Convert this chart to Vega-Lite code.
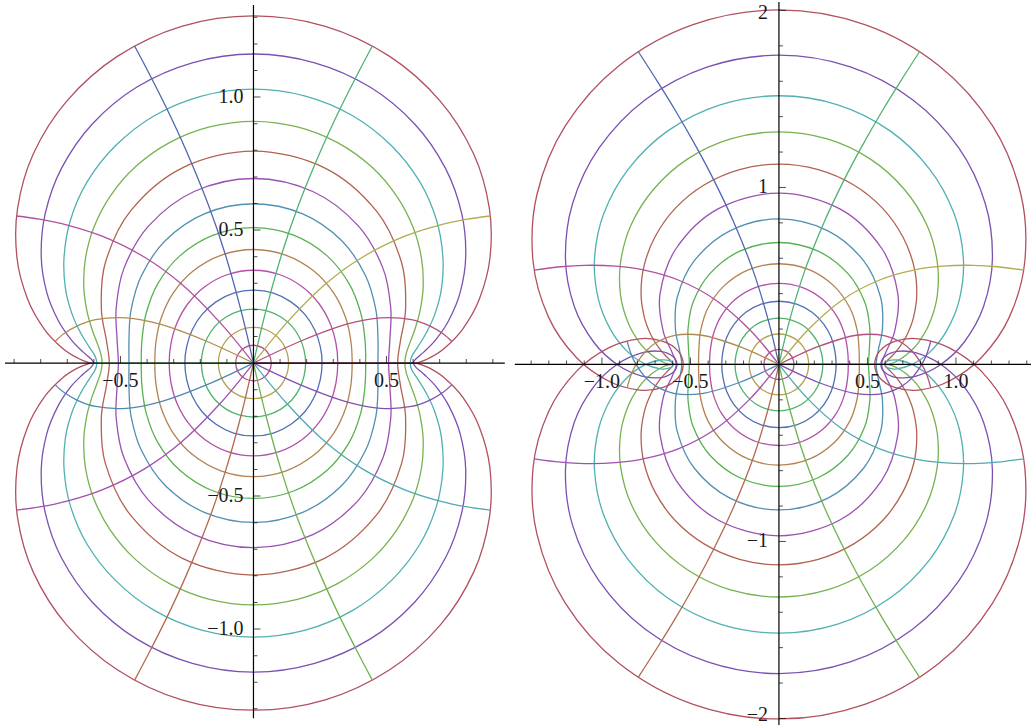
{
"$schema":"https://vega.github.io/schema/vega-lite/v6.json",
"background":"white","padding":0,"spacing":0,
"config":{"view":{"stroke":null},"concat":{"spacing":0}},
"datasets":{
"Lc":[
{"i":2,"x":0.067,"y":0},{"i":2,"x":0.058,"y":0.033},{"i":2,"x":0.033,"y":0.058},{"i":2,"x":0,"y":0.067},{"i":2,"x":-0.033,"y":0.058},{"i":2,"x":-0.058,"y":0.033},{"i":2,"x":-0.067,"y":0},{"i":2,"x":-0.058,"y":-0.033},{"i":2,"x":-0.033,"y":-0.058},{"i":2,"x":0,"y":-0.067},{"i":2,"x":0.033,"y":-0.058},{"i":2,"x":0.058,"y":-0.033},
{"i":3,"x":0.132,"y":0},{"i":3,"x":0.115,"y":0.066},{"i":3,"x":0.068,"y":0.115},{"i":3,"x":0,"y":0.134},{"i":3,"x":-0.068,"y":0.115},{"i":3,"x":-0.115,"y":0.066},{"i":3,"x":-0.132,"y":0},{"i":3,"x":-0.115,"y":-0.066},{"i":3,"x":-0.068,"y":-0.115},{"i":3,"x":0,"y":-0.134},{"i":3,"x":0.068,"y":-0.115},{"i":3,"x":0.115,"y":-0.066},
{"i":4,"x":0.196,"y":0},{"i":4,"x":0.19,"y":0.049},{"i":4,"x":0.173,"y":0.096},{"i":4,"x":0.144,"y":0.139},{"i":4,"x":0.103,"y":0.173},{"i":4,"x":0.054,"y":0.195},{"i":4,"x":0,"y":0.203},{"i":4,"x":-0.054,"y":0.195},{"i":4,"x":-0.103,"y":0.173},{"i":4,"x":-0.144,"y":0.139},{"i":4,"x":-0.173,"y":0.096},{"i":4,"x":-0.19,"y":0.049},{"i":4,"x":-0.196,"y":0},{"i":4,"x":-0.19,"y":-0.049},{"i":4,"x":-0.173,"y":-0.096},{"i":4,"x":-0.144,"y":-0.139},{"i":4,"x":-0.103,"y":-0.173},{"i":4,"x":-0.054,"y":-0.195},{"i":4,"x":0,"y":-0.203},{"i":4,"x":0.054,"y":-0.195},{"i":4,"x":0.103,"y":-0.173},{"i":4,"x":0.144,"y":-0.139},{"i":4,"x":0.173,"y":-0.096},{"i":4,"x":0.19,"y":-0.049},
{"i":5,"x":0.258,"y":0},{"i":5,"x":0.251,"y":0.063},{"i":5,"x":0.23,"y":0.125},{"i":5,"x":0.194,"y":0.182},{"i":5,"x":0.141,"y":0.23},{"i":5,"x":0.075,"y":0.263},{"i":5,"x":0,"y":0.274},{"i":5,"x":-0.075,"y":0.263},{"i":5,"x":-0.141,"y":0.23},{"i":5,"x":-0.194,"y":0.182},{"i":5,"x":-0.23,"y":0.125},{"i":5,"x":-0.251,"y":0.063},{"i":5,"x":-0.258,"y":0},{"i":5,"x":-0.251,"y":-0.063},{"i":5,"x":-0.23,"y":-0.125},{"i":5,"x":-0.194,"y":-0.182},{"i":5,"x":-0.141,"y":-0.23},{"i":5,"x":-0.075,"y":-0.263},{"i":5,"x":0,"y":-0.274},{"i":5,"x":0.075,"y":-0.263},{"i":5,"x":0.141,"y":-0.23},{"i":5,"x":0.194,"y":-0.182},{"i":5,"x":0.23,"y":-0.125},{"i":5,"x":0.251,"y":-0.063},
{"i":6,"x":0.317,"y":0},{"i":6,"x":0.31,"y":0.075},{"i":6,"x":0.288,"y":0.15},{"i":6,"x":0.246,"y":0.224},{"i":6,"x":0.182,"y":0.288},{"i":6,"x":0.097,"y":0.333},{"i":6,"x":0,"y":0.349},{"i":6,"x":-0.097,"y":0.333},{"i":6,"x":-0.182,"y":0.288},{"i":6,"x":-0.246,"y":0.224},{"i":6,"x":-0.288,"y":0.15},{"i":6,"x":-0.31,"y":0.075},{"i":6,"x":-0.317,"y":0},{"i":6,"x":-0.31,"y":-0.075},{"i":6,"x":-0.288,"y":-0.15},{"i":6,"x":-0.246,"y":-0.224},{"i":6,"x":-0.182,"y":-0.288},{"i":6,"x":-0.097,"y":-0.333},{"i":6,"x":0,"y":-0.349},{"i":6,"x":0.097,"y":-0.333},{"i":6,"x":0.182,"y":-0.288},{"i":6,"x":0.246,"y":-0.224},{"i":6,"x":0.288,"y":-0.15},{"i":6,"x":0.31,"y":-0.075},
{"i":7,"x":0.371,"y":0},{"i":7,"x":0.366,"y":0.084},{"i":7,"x":0.346,"y":0.172},{"i":7,"x":0.302,"y":0.263},{"i":7,"x":0.227,"y":0.346},{"i":7,"x":0.123,"y":0.405},{"i":7,"x":0,"y":0.427},{"i":7,"x":-0.123,"y":0.405},{"i":7,"x":-0.227,"y":0.346},{"i":7,"x":-0.302,"y":0.263},{"i":7,"x":-0.346,"y":0.172},{"i":7,"x":-0.366,"y":0.084},{"i":7,"x":-0.371,"y":0},{"i":7,"x":-0.366,"y":-0.084},{"i":7,"x":-0.346,"y":-0.172},{"i":7,"x":-0.302,"y":-0.263},{"i":7,"x":-0.227,"y":-0.346},{"i":7,"x":-0.123,"y":-0.405},{"i":7,"x":0,"y":-0.427},{"i":7,"x":0.123,"y":-0.405},{"i":7,"x":0.227,"y":-0.346},{"i":7,"x":0.302,"y":-0.263},{"i":7,"x":0.346,"y":-0.172},{"i":7,"x":0.366,"y":-0.084},
{"i":8,"x":0.422,"y":0},{"i":8,"x":0.419,"y":0.09},{"i":8,"x":0.403,"y":0.189},{"i":8,"x":0.36,"y":0.298},{"i":8,"x":0.277,"y":0.403},{"i":8,"x":0.151,"y":0.481},{"i":8,"x":0,"y":0.509},{"i":8,"x":-0.151,"y":0.481},{"i":8,"x":-0.277,"y":0.403},{"i":8,"x":-0.36,"y":0.298},{"i":8,"x":-0.403,"y":0.189},{"i":8,"x":-0.419,"y":0.09},{"i":8,"x":-0.422,"y":0},{"i":8,"x":-0.419,"y":-0.09},{"i":8,"x":-0.403,"y":-0.189},{"i":8,"x":-0.36,"y":-0.298},{"i":8,"x":-0.277,"y":-0.403},{"i":8,"x":-0.151,"y":-0.481},{"i":8,"x":0,"y":-0.509},{"i":8,"x":0.151,"y":-0.481},{"i":8,"x":0.277,"y":-0.403},{"i":8,"x":0.36,"y":-0.298},{"i":8,"x":0.403,"y":-0.189},{"i":8,"x":0.419,"y":-0.09},
{"i":9,"x":0.468,"y":0},{"i":9,"x":0.468,"y":0.093},{"i":9,"x":0.46,"y":0.201},{"i":9,"x":0.421,"y":0.329},{"i":9,"x":0.332,"y":0.46},{"i":9,"x":0.185,"y":0.561},{"i":9,"x":0,"y":0.599},{"i":9,"x":-0.185,"y":0.561},{"i":9,"x":-0.332,"y":0.46},{"i":9,"x":-0.421,"y":0.329},{"i":9,"x":-0.46,"y":0.201},{"i":9,"x":-0.468,"y":0.093},{"i":9,"x":-0.468,"y":0},{"i":9,"x":-0.468,"y":-0.093},{"i":9,"x":-0.46,"y":-0.201},{"i":9,"x":-0.421,"y":-0.329},{"i":9,"x":-0.332,"y":-0.46},{"i":9,"x":-0.185,"y":-0.561},{"i":9,"x":0,"y":-0.599},{"i":9,"x":0.185,"y":-0.561},{"i":9,"x":0.332,"y":-0.46},{"i":9,"x":0.421,"y":-0.329},{"i":9,"x":0.46,"y":-0.201},{"i":9,"x":0.468,"y":-0.093},
{"i":10,"x":0.508,"y":0},{"i":10,"x":0.513,"y":0.092},{"i":10,"x":0.516,"y":0.208},{"i":10,"x":0.487,"y":0.356},{"i":10,"x":0.394,"y":0.516},{"i":10,"x":0.223,"y":0.645},{"i":10,"x":0,"y":0.694},{"i":10,"x":-0.223,"y":0.645},{"i":10,"x":-0.394,"y":0.516},{"i":10,"x":-0.487,"y":0.356},{"i":10,"x":-0.516,"y":0.208},{"i":10,"x":-0.513,"y":0.092},{"i":10,"x":-0.508,"y":0},{"i":10,"x":-0.513,"y":-0.092},{"i":10,"x":-0.516,"y":-0.208},{"i":10,"x":-0.487,"y":-0.356},{"i":10,"x":-0.394,"y":-0.516},{"i":10,"x":-0.223,"y":-0.645},{"i":10,"x":0,"y":-0.694},{"i":10,"x":0.223,"y":-0.645},{"i":10,"x":0.394,"y":-0.516},{"i":10,"x":0.487,"y":-0.356},{"i":10,"x":0.516,"y":-0.208},{"i":10,"x":0.513,"y":-0.092},
{"i":11,"x":0.542,"y":0},{"i":11,"x":0.553,"y":0.086},{"i":11,"x":0.572,"y":0.207},{"i":11,"x":0.557,"y":0.377},{"i":11,"x":0.462,"y":0.572},{"i":11,"x":0.267,"y":0.734},{"i":11,"x":0,"y":0.797},{"i":11,"x":-0.267,"y":0.734},{"i":11,"x":-0.462,"y":0.572},{"i":11,"x":-0.557,"y":0.377},{"i":11,"x":-0.572,"y":0.207},{"i":11,"x":-0.553,"y":0.086},{"i":11,"x":-0.542,"y":0},{"i":11,"x":-0.553,"y":-0.086},{"i":11,"x":-0.572,"y":-0.207},{"i":11,"x":-0.557,"y":-0.377},{"i":11,"x":-0.462,"y":-0.572},{"i":11,"x":-0.267,"y":-0.734},{"i":11,"x":0,"y":-0.797},{"i":11,"x":0.267,"y":-0.734},{"i":11,"x":0.462,"y":-0.572},{"i":11,"x":0.557,"y":-0.377},{"i":11,"x":0.572,"y":-0.207},{"i":11,"x":0.553,"y":-0.086},
{"i":12,"x":0.569,"y":0},{"i":12,"x":0.574,"y":0.035},{"i":12,"x":0.588,"y":0.076},{"i":12,"x":0.608,"y":0.13},{"i":12,"x":0.627,"y":0.2},{"i":12,"x":0.638,"y":0.287},{"i":12,"x":0.632,"y":0.392},{"i":12,"x":0.601,"y":0.508},{"i":12,"x":0.539,"y":0.627},{"i":12,"x":0.444,"y":0.738},{"i":12,"x":0.316,"y":0.829},{"i":12,"x":0.165,"y":0.888},{"i":12,"x":0,"y":0.909},
{"i":12,"x":-0.165,"y":0.888},{"i":12,"x":-0.316,"y":0.829},{"i":12,"x":-0.444,"y":0.738},{"i":12,"x":-0.539,"y":0.627},{"i":12,"x":-0.601,"y":0.508},{"i":12,"x":-0.632,"y":0.392},{"i":12,"x":-0.638,"y":0.287},{"i":12,"x":-0.627,"y":0.2},{"i":12,"x":-0.608,"y":0.13},{"i":12,"x":-0.588,"y":0.076},{"i":12,"x":-0.574,"y":0.035},{"i":12,"x":-0.569,"y":0},
{"i":12,"x":-0.574,"y":-0.035},{"i":12,"x":-0.588,"y":-0.076},{"i":12,"x":-0.608,"y":-0.13},{"i":12,"x":-0.627,"y":-0.2},{"i":12,"x":-0.638,"y":-0.287},{"i":12,"x":-0.632,"y":-0.392},{"i":12,"x":-0.601,"y":-0.508},{"i":12,"x":-0.539,"y":-0.627},{"i":12,"x":-0.444,"y":-0.738},{"i":12,"x":-0.316,"y":-0.829},{"i":12,"x":-0.165,"y":-0.888},{"i":12,"x":0,"y":-0.909},
{"i":12,"x":0.165,"y":-0.888},{"i":12,"x":0.316,"y":-0.829},{"i":12,"x":0.444,"y":-0.738},{"i":12,"x":0.539,"y":-0.627},{"i":12,"x":0.601,"y":-0.508},{"i":12,"x":0.632,"y":-0.392},{"i":12,"x":0.638,"y":-0.287},{"i":12,"x":0.627,"y":-0.2},{"i":12,"x":0.608,"y":-0.13},{"i":12,"x":0.588,"y":-0.076},{"i":12,"x":0.574,"y":-0.035},
{"i":13,"x":0.589,"y":0},{"i":13,"x":0.596,"y":0.027},{"i":13,"x":0.618,"y":0.061},{"i":13,"x":0.649,"y":0.112},{"i":13,"x":0.682,"y":0.184},{"i":13,"x":0.707,"y":0.281},{"i":13,"x":0.712,"y":0.401},{"i":13,"x":0.688,"y":0.538},{"i":13,"x":0.625,"y":0.682},{"i":13,"x":0.519,"y":0.817},{"i":13,"x":0.373,"y":0.93},{"i":13,"x":0.195,"y":1.004},{"i":13,"x":0,"y":1.03},
{"i":13,"x":-0.195,"y":1.004},{"i":13,"x":-0.373,"y":0.93},{"i":13,"x":-0.519,"y":0.817},{"i":13,"x":-0.625,"y":0.682},{"i":13,"x":-0.688,"y":0.538},{"i":13,"x":-0.712,"y":0.401},{"i":13,"x":-0.707,"y":0.281},{"i":13,"x":-0.682,"y":0.184},{"i":13,"x":-0.649,"y":0.112},{"i":13,"x":-0.618,"y":0.061},{"i":13,"x":-0.596,"y":0.027},{"i":13,"x":-0.589,"y":0},
{"i":13,"x":-0.596,"y":-0.027},{"i":13,"x":-0.618,"y":-0.061},{"i":13,"x":-0.649,"y":-0.112},{"i":13,"x":-0.682,"y":-0.184},{"i":13,"x":-0.707,"y":-0.281},{"i":13,"x":-0.712,"y":-0.401},{"i":13,"x":-0.688,"y":-0.538},{"i":13,"x":-0.625,"y":-0.682},{"i":13,"x":-0.519,"y":-0.817},{"i":13,"x":-0.373,"y":-0.93},{"i":13,"x":-0.195,"y":-1.004},{"i":13,"x":0,"y":-1.03},
{"i":13,"x":0.195,"y":-1.004},{"i":13,"x":0.373,"y":-0.93},{"i":13,"x":0.519,"y":-0.817},{"i":13,"x":0.625,"y":-0.682},{"i":13,"x":0.688,"y":-0.538},{"i":13,"x":0.712,"y":-0.401},{"i":13,"x":0.707,"y":-0.281},{"i":13,"x":0.682,"y":-0.184},{"i":13,"x":0.649,"y":-0.112},{"i":13,"x":0.618,"y":-0.061},{"i":13,"x":0.596,"y":-0.027},
{"i":14,"x":0.601,"y":0},{"i":14,"x":0.611,"y":0.016},{"i":14,"x":0.641,"y":0.042},{"i":14,"x":0.685,"y":0.087},{"i":14,"x":0.734,"y":0.16},{"i":14,"x":0.777,"y":0.265},{"i":14,"x":0.798,"y":0.401},{"i":14,"x":0.783,"y":0.562},{"i":14,"x":0.721,"y":0.734},{"i":14,"x":0.605,"y":0.9},{"i":14,"x":0.438,"y":1.038},{"i":14,"x":0.23,"y":1.129},{"i":14,"x":0,"y":1.162},
{"i":14,"x":-0.23,"y":1.129},{"i":14,"x":-0.438,"y":1.038},{"i":14,"x":-0.605,"y":0.9},{"i":14,"x":-0.721,"y":0.734},{"i":14,"x":-0.783,"y":0.562},{"i":14,"x":-0.798,"y":0.401},{"i":14,"x":-0.777,"y":0.265},{"i":14,"x":-0.734,"y":0.16},{"i":14,"x":-0.685,"y":0.087},{"i":14,"x":-0.641,"y":0.042},{"i":14,"x":-0.611,"y":0.016},{"i":14,"x":-0.601,"y":0},
{"i":14,"x":-0.611,"y":-0.016},{"i":14,"x":-0.641,"y":-0.042},{"i":14,"x":-0.685,"y":-0.087},{"i":14,"x":-0.734,"y":-0.16},{"i":14,"x":-0.777,"y":-0.265},{"i":14,"x":-0.798,"y":-0.401},{"i":14,"x":-0.783,"y":-0.562},{"i":14,"x":-0.721,"y":-0.734},{"i":14,"x":-0.605,"y":-0.9},{"i":14,"x":-0.438,"y":-1.038},{"i":14,"x":-0.23,"y":-1.129},{"i":14,"x":0,"y":-1.162},
{"i":14,"x":0.23,"y":-1.129},{"i":14,"x":0.438,"y":-1.038},{"i":14,"x":0.605,"y":-0.9},{"i":14,"x":0.721,"y":-0.734},{"i":14,"x":0.783,"y":-0.562},{"i":14,"x":0.798,"y":-0.401},{"i":14,"x":0.777,"y":-0.265},{"i":14,"x":0.734,"y":-0.16},{"i":14,"x":0.685,"y":-0.087},{"i":14,"x":0.641,"y":-0.042},{"i":14,"x":0.611,"y":-0.016},
{"i":15,"x":0.605,"y":0},{"i":15,"x":0.619,"y":0.002},{"i":15,"x":0.658,"y":0.017},{"i":15,"x":0.717,"y":0.055},{"i":15,"x":0.786,"y":0.127},{"i":15,"x":0.849,"y":0.24},{"i":15,"x":0.889,"y":0.394},{"i":15,"x":0.887,"y":0.581},{"i":15,"x":0.828,"y":0.786},{"i":15,"x":0.702,"y":0.985},{"i":15,"x":0.512,"y":1.153},{"i":15,"x":0.27,"y":1.266},{"i":15,"x":0,"y":1.305},
{"i":15,"x":-0.27,"y":1.266},{"i":15,"x":-0.512,"y":1.153},{"i":15,"x":-0.702,"y":0.985},{"i":15,"x":-0.828,"y":0.786},{"i":15,"x":-0.887,"y":0.581},{"i":15,"x":-0.889,"y":0.394},{"i":15,"x":-0.849,"y":0.24},{"i":15,"x":-0.786,"y":0.127},{"i":15,"x":-0.717,"y":0.055},{"i":15,"x":-0.658,"y":0.017},{"i":15,"x":-0.619,"y":0.002},{"i":15,"x":-0.605,"y":0},
{"i":15,"x":-0.619,"y":-0.002},{"i":15,"x":-0.658,"y":-0.017},{"i":15,"x":-0.717,"y":-0.055},{"i":15,"x":-0.786,"y":-0.127},{"i":15,"x":-0.849,"y":-0.24},{"i":15,"x":-0.889,"y":-0.394},{"i":15,"x":-0.887,"y":-0.581},{"i":15,"x":-0.828,"y":-0.786},{"i":15,"x":-0.702,"y":-0.985},{"i":15,"x":-0.512,"y":-1.153},{"i":15,"x":-0.27,"y":-1.266},{"i":15,"x":0,"y":-1.305},
{"i":15,"x":0.27,"y":-1.266},{"i":15,"x":0.512,"y":-1.153},{"i":15,"x":0.702,"y":-0.985},{"i":15,"x":0.828,"y":-0.786},{"i":15,"x":0.887,"y":-0.581},{"i":15,"x":0.889,"y":-0.394},{"i":15,"x":0.849,"y":-0.24},{"i":15,"x":0.786,"y":-0.127},{"i":15,"x":0.717,"y":-0.055},{"i":15,"x":0.658,"y":-0.017},{"i":15,"x":0.619,"y":-0.002}
],
"Lr":[
{"i":18,"x":0,"y":0},{"i":18,"x":0.605,"y":0},
{"i":19,"x":0,"y":0},{"i":19,"x":0.179,"y":0.083},{"i":19,"x":0.354,"y":0.147},{"i":19,"x":0.478,"y":0.17},{"i":19,"x":0.594,"y":0.163},{"i":19,"x":0.664,"y":0.139},{"i":19,"x":0.713,"y":0.11},{"i":19,"x":0.746,"y":0.081},
{"i":20,"x":0,"y":0},{"i":20,"x":0.128,"y":0.155},{"i":20,"x":0.274,"y":0.3},{"i":20,"x":0.408,"y":0.397},{"i":20,"x":0.569,"y":0.477},{"i":20,"x":0.697,"y":0.518},{"i":20,"x":0.804,"y":0.541},{"i":20,"x":0.891,"y":0.553},
{"i":21,"x":0,"y":0},{"i":21,"x":0.047,"y":0.198},{"i":21,"x":0.107,"y":0.412},{"i":21,"x":0.169,"y":0.593},{"i":21,"x":0.254,"y":0.801},{"i":21,"x":0.327,"y":0.959},{"i":21,"x":0.392,"y":1.088},{"i":21,"x":0.447,"y":1.192},
{"i":22,"x":0,"y":0},{"i":22,"x":-0.047,"y":0.198},{"i":22,"x":-0.107,"y":0.412},{"i":22,"x":-0.169,"y":0.593},{"i":22,"x":-0.254,"y":0.801},{"i":22,"x":-0.327,"y":0.959},{"i":22,"x":-0.392,"y":1.088},{"i":22,"x":-0.447,"y":1.192},
{"i":23,"x":0,"y":0},{"i":23,"x":-0.128,"y":0.155},{"i":23,"x":-0.274,"y":0.3},{"i":23,"x":-0.408,"y":0.397},{"i":23,"x":-0.569,"y":0.477},{"i":23,"x":-0.697,"y":0.518},{"i":23,"x":-0.804,"y":0.541},{"i":23,"x":-0.891,"y":0.553},
{"i":24,"x":0,"y":0},{"i":24,"x":-0.179,"y":0.083},{"i":24,"x":-0.354,"y":0.147},{"i":24,"x":-0.478,"y":0.17},{"i":24,"x":-0.594,"y":0.163},{"i":24,"x":-0.664,"y":0.139},{"i":24,"x":-0.713,"y":0.11},{"i":24,"x":-0.746,"y":0.081},
{"i":25,"x":0,"y":0},{"i":25,"x":-0.605,"y":0},
{"i":26,"x":0,"y":0},{"i":26,"x":-0.179,"y":-0.083},{"i":26,"x":-0.354,"y":-0.147},{"i":26,"x":-0.478,"y":-0.17},{"i":26,"x":-0.594,"y":-0.163},{"i":26,"x":-0.664,"y":-0.139},{"i":26,"x":-0.713,"y":-0.11},{"i":26,"x":-0.746,"y":-0.081},
{"i":27,"x":0,"y":0},{"i":27,"x":-0.128,"y":-0.155},{"i":27,"x":-0.274,"y":-0.3},{"i":27,"x":-0.408,"y":-0.397},{"i":27,"x":-0.569,"y":-0.477},{"i":27,"x":-0.697,"y":-0.518},{"i":27,"x":-0.804,"y":-0.541},{"i":27,"x":-0.891,"y":-0.553},
{"i":28,"x":0,"y":0},{"i":28,"x":-0.047,"y":-0.198},{"i":28,"x":-0.107,"y":-0.412},{"i":28,"x":-0.169,"y":-0.593},{"i":28,"x":-0.254,"y":-0.801},{"i":28,"x":-0.327,"y":-0.959},{"i":28,"x":-0.392,"y":-1.088},{"i":28,"x":-0.447,"y":-1.192},
{"i":29,"x":0,"y":0},{"i":29,"x":0.047,"y":-0.198},{"i":29,"x":0.107,"y":-0.412},{"i":29,"x":0.169,"y":-0.593},{"i":29,"x":0.254,"y":-0.801},{"i":29,"x":0.327,"y":-0.959},{"i":29,"x":0.392,"y":-1.088},{"i":29,"x":0.447,"y":-1.192},
{"i":30,"x":0,"y":0},{"i":30,"x":0.128,"y":-0.155},{"i":30,"x":0.274,"y":-0.3},{"i":30,"x":0.408,"y":-0.397},{"i":30,"x":0.569,"y":-0.477},{"i":30,"x":0.697,"y":-0.518},{"i":30,"x":0.804,"y":-0.541},{"i":30,"x":0.891,"y":-0.553},
{"i":31,"x":0,"y":0},{"i":31,"x":0.179,"y":-0.083},{"i":31,"x":0.354,"y":-0.147},{"i":31,"x":0.478,"y":-0.17},{"i":31,"x":0.594,"y":-0.163},{"i":31,"x":0.664,"y":-0.139},{"i":31,"x":0.713,"y":-0.11},{"i":31,"x":0.746,"y":-0.081},
{"i":32,"x":0,"y":0},{"i":32,"x":0.605,"y":0}
],
"Rc":[
{"i":2,"x":0.085,"y":0},{"i":2,"x":0.074,"y":0.043},{"i":2,"x":0.043,"y":0.074},{"i":2,"x":0,"y":0.085},{"i":2,"x":-0.043,"y":0.074},{"i":2,"x":-0.074,"y":0.043},{"i":2,"x":-0.085,"y":0},{"i":2,"x":-0.074,"y":-0.043},{"i":2,"x":-0.043,"y":-0.074},{"i":2,"x":0,"y":-0.085},{"i":2,"x":0.043,"y":-0.074},{"i":2,"x":0.074,"y":-0.043},
{"i":3,"x":0.168,"y":0},{"i":3,"x":0.147,"y":0.083},{"i":3,"x":0.087,"y":0.147},{"i":3,"x":0,"y":0.172},{"i":3,"x":-0.087,"y":0.147},{"i":3,"x":-0.147,"y":0.083},{"i":3,"x":-0.168,"y":0},{"i":3,"x":-0.147,"y":-0.083},{"i":3,"x":-0.087,"y":-0.147},{"i":3,"x":0,"y":-0.172},{"i":3,"x":0.087,"y":-0.147},{"i":3,"x":0.147,"y":-0.083},
{"i":4,"x":0.248,"y":0},{"i":4,"x":0.241,"y":0.061},{"i":4,"x":0.221,"y":0.12},{"i":4,"x":0.185,"y":0.175},{"i":4,"x":0.135,"y":0.221},{"i":4,"x":0.071,"y":0.251},{"i":4,"x":0,"y":0.262},{"i":4,"x":-0.071,"y":0.251},{"i":4,"x":-0.135,"y":0.221},{"i":4,"x":-0.185,"y":0.175},{"i":4,"x":-0.221,"y":0.12},{"i":4,"x":-0.241,"y":0.061},{"i":4,"x":-0.248,"y":0},{"i":4,"x":-0.241,"y":-0.061},{"i":4,"x":-0.221,"y":-0.12},{"i":4,"x":-0.185,"y":-0.175},{"i":4,"x":-0.135,"y":-0.221},{"i":4,"x":-0.071,"y":-0.251},{"i":4,"x":0,"y":-0.262},{"i":4,"x":0.071,"y":-0.251},{"i":4,"x":0.135,"y":-0.221},{"i":4,"x":0.185,"y":-0.175},{"i":4,"x":0.221,"y":-0.12},{"i":4,"x":0.241,"y":-0.061},
{"i":5,"x":0.323,"y":0},{"i":5,"x":0.316,"y":0.076},{"i":5,"x":0.295,"y":0.153},{"i":5,"x":0.253,"y":0.228},{"i":5,"x":0.187,"y":0.295},{"i":5,"x":0.1,"y":0.341},{"i":5,"x":0,"y":0.357},{"i":5,"x":-0.1,"y":0.341},{"i":5,"x":-0.187,"y":0.295},{"i":5,"x":-0.253,"y":0.228},{"i":5,"x":-0.295,"y":0.153},{"i":5,"x":-0.316,"y":0.076},{"i":5,"x":-0.323,"y":0},{"i":5,"x":-0.316,"y":-0.076},{"i":5,"x":-0.295,"y":-0.153},{"i":5,"x":-0.253,"y":-0.228},{"i":5,"x":-0.187,"y":-0.295},{"i":5,"x":-0.1,"y":-0.341},{"i":5,"x":0,"y":-0.357},{"i":5,"x":0.1,"y":-0.341},{"i":5,"x":0.187,"y":-0.295},{"i":5,"x":0.253,"y":-0.228},{"i":5,"x":0.295,"y":-0.153},{"i":5,"x":0.316,"y":-0.076},
{"i":6,"x":0.392,"y":0},{"i":6,"x":0.387,"y":0.086},{"i":6,"x":0.368,"y":0.179},{"i":6,"x":0.324,"y":0.277},{"i":6,"x":0.246,"y":0.368},{"i":6,"x":0.134,"y":0.434},{"i":6,"x":0,"y":0.458},{"i":6,"x":-0.134,"y":0.434},{"i":6,"x":-0.246,"y":0.368},{"i":6,"x":-0.324,"y":0.277},{"i":6,"x":-0.368,"y":0.179},{"i":6,"x":-0.387,"y":0.086},{"i":6,"x":-0.392,"y":0},{"i":6,"x":-0.387,"y":-0.086},{"i":6,"x":-0.368,"y":-0.179},{"i":6,"x":-0.324,"y":-0.277},{"i":6,"x":-0.246,"y":-0.368},{"i":6,"x":-0.134,"y":-0.434},{"i":6,"x":0,"y":-0.458},{"i":6,"x":0.134,"y":-0.434},{"i":6,"x":0.246,"y":-0.368},{"i":6,"x":0.324,"y":-0.277},{"i":6,"x":0.368,"y":-0.179},{"i":6,"x":0.387,"y":-0.086},
{"i":7,"x":0.454,"y":0},{"i":7,"x":0.452,"y":0.092},{"i":7,"x":0.441,"y":0.198},{"i":7,"x":0.401,"y":0.319},{"i":7,"x":0.313,"y":0.441},{"i":7,"x":0.174,"y":0.534},{"i":7,"x":0,"y":0.569},{"i":7,"x":-0.174,"y":0.534},{"i":7,"x":-0.313,"y":0.441},{"i":7,"x":-0.401,"y":0.319},{"i":7,"x":-0.441,"y":0.198},{"i":7,"x":-0.452,"y":0.092},{"i":7,"x":-0.454,"y":0},{"i":7,"x":-0.452,"y":-0.092},{"i":7,"x":-0.441,"y":-0.198},{"i":7,"x":-0.401,"y":-0.319},{"i":7,"x":-0.313,"y":-0.441},{"i":7,"x":-0.174,"y":-0.534},{"i":7,"x":0,"y":-0.569},{"i":7,"x":0.174,"y":-0.534},{"i":7,"x":0.313,"y":-0.441},{"i":7,"x":0.401,"y":-0.319},{"i":7,"x":0.441,"y":-0.198},{"i":7,"x":0.452,"y":-0.092},
{"i":8,"x":0.506,"y":0},{"i":8,"x":0.511,"y":0.092},{"i":8,"x":0.513,"y":0.207},{"i":8,"x":0.484,"y":0.354},{"i":8,"x":0.39,"y":0.513},{"i":8,"x":0.221,"y":0.64},{"i":8,"x":0,"y":0.689},{"i":8,"x":-0.221,"y":0.64},{"i":8,"x":-0.39,"y":0.513},{"i":8,"x":-0.484,"y":0.354},{"i":8,"x":-0.513,"y":0.207},{"i":8,"x":-0.511,"y":0.092},{"i":8,"x":-0.506,"y":0},{"i":8,"x":-0.511,"y":-0.092},{"i":8,"x":-0.513,"y":-0.207},{"i":8,"x":-0.484,"y":-0.354},{"i":8,"x":-0.39,"y":-0.513},{"i":8,"x":-0.221,"y":-0.64},{"i":8,"x":0,"y":-0.689},{"i":8,"x":0.221,"y":-0.64},{"i":8,"x":0.39,"y":-0.513},{"i":8,"x":0.484,"y":-0.354},{"i":8,"x":0.513,"y":-0.207},{"i":8,"x":0.511,"y":-0.092},
{"i":9,"x":0.549,"y":0},{"i":9,"x":0.562,"y":0.084},{"i":9,"x":0.585,"y":0.206},{"i":9,"x":0.574,"y":0.381},{"i":9,"x":0.479,"y":0.585},{"i":9,"x":0.277,"y":0.755},{"i":9,"x":0,"y":0.822},{"i":9,"x":-0.277,"y":0.755},{"i":9,"x":-0.479,"y":0.585},{"i":9,"x":-0.574,"y":0.381},{"i":9,"x":-0.585,"y":0.206},{"i":9,"x":-0.562,"y":0.084},{"i":9,"x":-0.549,"y":0},{"i":9,"x":-0.562,"y":-0.084},{"i":9,"x":-0.585,"y":-0.206},{"i":9,"x":-0.574,"y":-0.381},{"i":9,"x":-0.479,"y":-0.585},{"i":9,"x":-0.277,"y":-0.755},{"i":9,"x":0,"y":-0.822},{"i":9,"x":0.277,"y":-0.755},{"i":9,"x":0.479,"y":-0.585},{"i":9,"x":0.574,"y":-0.381},{"i":9,"x":0.585,"y":-0.206},{"i":9,"x":0.562,"y":-0.084},
{"i":10,"x":0.58,"y":0},{"i":10,"x":0.604,"y":0.069},{"i":10,"x":0.655,"y":0.193},{"i":10,"x":0.672,"y":0.397},{"i":10,"x":0.581,"y":0.655},{"i":10,"x":0.344,"y":0.879},{"i":10,"x":0,"y":0.968},{"i":10,"x":-0.344,"y":0.879},{"i":10,"x":-0.581,"y":0.655},{"i":10,"x":-0.672,"y":0.397},{"i":10,"x":-0.655,"y":0.193},{"i":10,"x":-0.604,"y":0.069},{"i":10,"x":-0.58,"y":0},{"i":10,"x":-0.604,"y":-0.069},{"i":10,"x":-0.655,"y":-0.193},{"i":10,"x":-0.672,"y":-0.397},{"i":10,"x":-0.581,"y":-0.655},{"i":10,"x":-0.344,"y":-0.879},{"i":10,"x":0,"y":-0.968},{"i":10,"x":0.344,"y":-0.879},{"i":10,"x":0.581,"y":-0.655},{"i":10,"x":0.672,"y":-0.397},{"i":10,"x":0.655,"y":-0.193},{"i":10,"x":0.604,"y":-0.069},
{"i":11,"x":0.599,"y":0},{"i":11,"x":0.609,"y":0.018},{"i":11,"x":0.637,"y":0.046},{"i":11,"x":0.678,"y":0.093},{"i":11,"x":0.723,"y":0.166},{"i":11,"x":0.761,"y":0.269},{"i":11,"x":0.779,"y":0.402},{"i":11,"x":0.762,"y":0.557},{"i":11,"x":0.699,"y":0.723},{"i":11,"x":0.586,"y":0.882},{"i":11,"x":0.423,"y":1.014},{"i":11,"x":0.222,"y":1.101},{"i":11,"x":0,"y":1.132},
{"i":11,"x":-0.222,"y":1.101},{"i":11,"x":-0.423,"y":1.014},{"i":11,"x":-0.586,"y":0.882},{"i":11,"x":-0.699,"y":0.723},{"i":11,"x":-0.762,"y":0.557},{"i":11,"x":-0.779,"y":0.402},{"i":11,"x":-0.761,"y":0.269},{"i":11,"x":-0.723,"y":0.166},{"i":11,"x":-0.678,"y":0.093},{"i":11,"x":-0.637,"y":0.046},{"i":11,"x":-0.609,"y":0.018},{"i":11,"x":-0.599,"y":0},
{"i":11,"x":-0.609,"y":-0.018},{"i":11,"x":-0.637,"y":-0.046},{"i":11,"x":-0.678,"y":-0.093},{"i":11,"x":-0.723,"y":-0.166},{"i":11,"x":-0.761,"y":-0.269},{"i":11,"x":-0.779,"y":-0.402},{"i":11,"x":-0.762,"y":-0.557},{"i":11,"x":-0.699,"y":-0.723},{"i":11,"x":-0.586,"y":-0.882},{"i":11,"x":-0.423,"y":-1.014},{"i":11,"x":-0.222,"y":-1.101},{"i":11,"x":0,"y":-1.132},
{"i":11,"x":0.222,"y":-1.101},{"i":11,"x":0.423,"y":-1.014},{"i":11,"x":0.586,"y":-0.882},{"i":11,"x":0.699,"y":-0.723},{"i":11,"x":0.762,"y":-0.557},{"i":11,"x":0.779,"y":-0.402},{"i":11,"x":0.761,"y":-0.269},{"i":11,"x":0.723,"y":-0.166},{"i":11,"x":0.678,"y":-0.093},{"i":11,"x":0.637,"y":-0.046},{"i":11,"x":0.609,"y":-0.018},
{"i":12,"x":0.605,"y":0},{"i":12,"x":0.619,"y":0.001},{"i":12,"x":0.659,"y":0.015},{"i":12,"x":0.719,"y":0.053},{"i":12,"x":0.789,"y":0.125},{"i":12,"x":0.853,"y":0.238},{"i":12,"x":0.895,"y":0.393},{"i":12,"x":0.894,"y":0.582},{"i":12,"x":0.835,"y":0.789},{"i":12,"x":0.708,"y":0.99},{"i":12,"x":0.517,"y":1.16},{"i":12,"x":0.273,"y":1.274},{"i":12,"x":0,"y":1.314},
{"i":12,"x":-0.273,"y":1.274},{"i":12,"x":-0.517,"y":1.16},{"i":12,"x":-0.708,"y":0.99},{"i":12,"x":-0.835,"y":0.789},{"i":12,"x":-0.894,"y":0.582},{"i":12,"x":-0.895,"y":0.393},{"i":12,"x":-0.853,"y":0.238},{"i":12,"x":-0.789,"y":0.125},{"i":12,"x":-0.719,"y":0.053},{"i":12,"x":-0.659,"y":0.015},{"i":12,"x":-0.619,"y":0.001},{"i":12,"x":-0.605,"y":0},
{"i":12,"x":-0.619,"y":-0.001},{"i":12,"x":-0.659,"y":-0.015},{"i":12,"x":-0.719,"y":-0.053},{"i":12,"x":-0.789,"y":-0.125},{"i":12,"x":-0.853,"y":-0.238},{"i":12,"x":-0.895,"y":-0.393},{"i":12,"x":-0.894,"y":-0.582},{"i":12,"x":-0.835,"y":-0.789},{"i":12,"x":-0.708,"y":-0.99},{"i":12,"x":-0.517,"y":-1.16},{"i":12,"x":-0.273,"y":-1.274},{"i":12,"x":0,"y":-1.314},
{"i":12,"x":0.273,"y":-1.274},{"i":12,"x":0.517,"y":-1.16},{"i":12,"x":0.708,"y":-0.99},{"i":12,"x":0.835,"y":-0.789},{"i":12,"x":0.894,"y":-0.582},{"i":12,"x":0.895,"y":-0.393},{"i":12,"x":0.853,"y":-0.238},{"i":12,"x":0.789,"y":-0.125},{"i":12,"x":0.719,"y":-0.053},{"i":12,"x":0.659,"y":-0.015},{"i":12,"x":0.619,"y":-0.001},
{"i":13,"x":0.597,"y":0},{"i":13,"x":0.616,"y":-0.02},{"i":13,"x":0.669,"y":-0.025},{"i":13,"x":0.752,"y":0},{"i":13,"x":0.851,"y":0.068},{"i":13,"x":0.948,"y":0.191},{"i":13,"x":1.02,"y":0.369},{"i":13,"x":1.042,"y":0.595},{"i":13,"x":0.99,"y":0.851},{"i":13,"x":0.851,"y":1.104},{"i":13,"x":0.626,"y":1.321},{"i":13,"x":0.332,"y":1.467},{"i":13,"x":0,"y":1.518},
{"i":13,"x":-0.332,"y":1.467},{"i":13,"x":-0.626,"y":1.321},{"i":13,"x":-0.851,"y":1.104},{"i":13,"x":-0.99,"y":0.851},{"i":13,"x":-1.042,"y":0.595},{"i":13,"x":-1.02,"y":0.369},{"i":13,"x":-0.948,"y":0.191},{"i":13,"x":-0.851,"y":0.068},{"i":13,"x":-0.752,"y":0},{"i":13,"x":-0.669,"y":-0.025},{"i":13,"x":-0.616,"y":-0.02},{"i":13,"x":-0.597,"y":0},
{"i":13,"x":-0.616,"y":0.02},{"i":13,"x":-0.669,"y":0.025},{"i":13,"x":-0.752,"y":0},{"i":13,"x":-0.851,"y":-0.068},{"i":13,"x":-0.948,"y":-0.191},{"i":13,"x":-1.02,"y":-0.369},{"i":13,"x":-1.042,"y":-0.595},{"i":13,"x":-0.99,"y":-0.851},{"i":13,"x":-0.851,"y":-1.104},{"i":13,"x":-0.626,"y":-1.321},{"i":13,"x":-0.332,"y":-1.467},{"i":13,"x":0,"y":-1.518},
{"i":13,"x":0.332,"y":-1.467},{"i":13,"x":0.626,"y":-1.321},{"i":13,"x":0.851,"y":-1.104},{"i":13,"x":0.99,"y":-0.851},{"i":13,"x":1.042,"y":-0.595},{"i":13,"x":1.02,"y":-0.369},{"i":13,"x":0.948,"y":-0.191},{"i":13,"x":0.851,"y":-0.068},{"i":13,"x":0.752,"y":0},{"i":13,"x":0.669,"y":0.025},{"i":13,"x":0.616,"y":0.02},
{"i":14,"x":0.576,"y":0},{"i":14,"x":0.599,"y":-0.045},{"i":14,"x":0.668,"y":-0.074},{"i":14,"x":0.775,"y":-0.066},{"i":14,"x":0.908,"y":-0.005},{"i":14,"x":1.045,"y":0.124},{"i":14,"x":1.156,"y":0.327},{"i":14,"x":1.206,"y":0.597},{"i":14,"x":1.166,"y":0.908},{"i":14,"x":1.016,"y":1.223},{"i":14,"x":0.755,"y":1.496},{"i":14,"x":0.403,"y":1.681},{"i":14,"x":0,"y":1.747},
{"i":14,"x":-0.403,"y":1.681},{"i":14,"x":-0.755,"y":1.496},{"i":14,"x":-1.016,"y":1.223},{"i":14,"x":-1.166,"y":0.908},{"i":14,"x":-1.206,"y":0.597},{"i":14,"x":-1.156,"y":0.327},{"i":14,"x":-1.045,"y":0.124},{"i":14,"x":-0.908,"y":-0.005},{"i":14,"x":-0.775,"y":-0.066},{"i":14,"x":-0.668,"y":-0.074},{"i":14,"x":-0.599,"y":-0.045},{"i":14,"x":-0.576,"y":0},
{"i":14,"x":-0.599,"y":0.045},{"i":14,"x":-0.668,"y":0.074},{"i":14,"x":-0.775,"y":0.066},{"i":14,"x":-0.908,"y":0.005},{"i":14,"x":-1.045,"y":-0.124},{"i":14,"x":-1.156,"y":-0.327},{"i":14,"x":-1.206,"y":-0.597},{"i":14,"x":-1.166,"y":-0.908},{"i":14,"x":-1.016,"y":-1.223},{"i":14,"x":-0.755,"y":-1.496},{"i":14,"x":-0.403,"y":-1.681},{"i":14,"x":0,"y":-1.747},
{"i":14,"x":0.403,"y":-1.681},{"i":14,"x":0.755,"y":-1.496},{"i":14,"x":1.016,"y":-1.223},{"i":14,"x":1.166,"y":-0.908},{"i":14,"x":1.206,"y":-0.597},{"i":14,"x":1.156,"y":-0.327},{"i":14,"x":1.045,"y":-0.124},{"i":14,"x":0.908,"y":0.005},{"i":14,"x":0.775,"y":0.066},{"i":14,"x":0.668,"y":0.074},{"i":14,"x":0.599,"y":0.045},
{"i":15,"x":0.541,"y":0},{"i":15,"x":0.569,"y":-0.075},{"i":15,"x":0.654,"y":-0.13},{"i":15,"x":0.788,"y":-0.145},{"i":15,"x":0.96,"y":-0.095},{"i":15,"x":1.143,"y":0.038},{"i":15,"x":1.301,"y":0.266},{"i":15,"x":1.389,"y":0.583},{"i":15,"x":1.367,"y":0.96},{"i":15,"x":1.207,"y":1.348},{"i":15,"x":0.904,"y":1.688},{"i":15,"x":0.485,"y":1.92},{"i":15,"x":0,"y":2.003},
{"i":15,"x":-0.485,"y":1.92},{"i":15,"x":-0.904,"y":1.688},{"i":15,"x":-1.207,"y":1.348},{"i":15,"x":-1.367,"y":0.96},{"i":15,"x":-1.389,"y":0.583},{"i":15,"x":-1.301,"y":0.266},{"i":15,"x":-1.143,"y":0.038},{"i":15,"x":-0.96,"y":-0.095},{"i":15,"x":-0.788,"y":-0.145},{"i":15,"x":-0.654,"y":-0.13},{"i":15,"x":-0.569,"y":-0.075},{"i":15,"x":-0.541,"y":0},
{"i":15,"x":-0.569,"y":0.075},{"i":15,"x":-0.654,"y":0.13},{"i":15,"x":-0.788,"y":0.145},{"i":15,"x":-0.96,"y":0.095},{"i":15,"x":-1.143,"y":-0.038},{"i":15,"x":-1.301,"y":-0.266},{"i":15,"x":-1.389,"y":-0.583},{"i":15,"x":-1.367,"y":-0.96},{"i":15,"x":-1.207,"y":-1.348},{"i":15,"x":-0.904,"y":-1.688},{"i":15,"x":-0.485,"y":-1.92},{"i":15,"x":0,"y":-2.003},
{"i":15,"x":0.485,"y":-1.92},{"i":15,"x":0.904,"y":-1.688},{"i":15,"x":1.207,"y":-1.348},{"i":15,"x":1.367,"y":-0.96},{"i":15,"x":1.389,"y":-0.583},{"i":15,"x":1.301,"y":-0.266},{"i":15,"x":1.143,"y":-0.038},{"i":15,"x":0.96,"y":0.095},{"i":15,"x":0.788,"y":0.145},{"i":15,"x":0.654,"y":0.13},{"i":15,"x":0.569,"y":0.075}
],
"Rr":[
{"i":18,"x":0,"y":0},{"i":18,"x":0.605,"y":0},
{"i":19,"x":0,"y":0},{"i":19,"x":0.224,"y":0.102},{"i":19,"x":0.438,"y":0.165},{"i":19,"x":0.594,"y":0.163},{"i":19,"x":0.697,"y":0.121},{"i":19,"x":0.757,"y":0.07},{"i":19,"x":0.807,"y":0},{"i":19,"x":0.836,"y":-0.061},{"i":19,"x":0.858,"y":-0.133},
{"i":20,"x":0,"y":0},{"i":20,"x":0.162,"y":0.193},{"i":20,"x":0.36,"y":0.366},{"i":20,"x":0.569,"y":0.477},{"i":20,"x":0.767,"y":0.534},{"i":20,"x":0.922,"y":0.555},{"i":20,"x":1.098,"y":0.56},{"i":20,"x":1.234,"y":0.552},{"i":20,"x":1.383,"y":0.533},
{"i":21,"x":0,"y":0},{"i":21,"x":0.06,"y":0.249},{"i":21,"x":0.146,"y":0.53},{"i":21,"x":0.254,"y":0.801},{"i":21,"x":0.369,"y":1.044},{"i":21,"x":0.467,"y":1.229},{"i":21,"x":0.586,"y":1.436},{"i":21,"x":0.684,"y":1.595},{"i":21,"x":0.795,"y":1.768},
{"i":22,"x":0,"y":0},{"i":22,"x":-0.06,"y":0.249},{"i":22,"x":-0.146,"y":0.53},{"i":22,"x":-0.254,"y":0.801},{"i":22,"x":-0.369,"y":1.044},{"i":22,"x":-0.467,"y":1.229},{"i":22,"x":-0.586,"y":1.436},{"i":22,"x":-0.684,"y":1.595},{"i":22,"x":-0.795,"y":1.768},
{"i":23,"x":0,"y":0},{"i":23,"x":-0.162,"y":0.193},{"i":23,"x":-0.36,"y":0.366},{"i":23,"x":-0.569,"y":0.477},{"i":23,"x":-0.767,"y":0.534},{"i":23,"x":-0.922,"y":0.555},{"i":23,"x":-1.098,"y":0.56},{"i":23,"x":-1.234,"y":0.552},{"i":23,"x":-1.383,"y":0.533},
{"i":24,"x":0,"y":0},{"i":24,"x":-0.224,"y":0.102},{"i":24,"x":-0.438,"y":0.165},{"i":24,"x":-0.594,"y":0.163},{"i":24,"x":-0.697,"y":0.121},{"i":24,"x":-0.757,"y":0.07},{"i":24,"x":-0.807,"y":0},{"i":24,"x":-0.836,"y":-0.061},{"i":24,"x":-0.858,"y":-0.133},
{"i":25,"x":0,"y":0},{"i":25,"x":-0.605,"y":0},
{"i":26,"x":0,"y":0},{"i":26,"x":-0.224,"y":-0.102},{"i":26,"x":-0.438,"y":-0.165},{"i":26,"x":-0.594,"y":-0.163},{"i":26,"x":-0.697,"y":-0.121},{"i":26,"x":-0.757,"y":-0.07},{"i":26,"x":-0.807,"y":0},{"i":26,"x":-0.836,"y":0.061},{"i":26,"x":-0.858,"y":0.133},
{"i":27,"x":0,"y":0},{"i":27,"x":-0.162,"y":-0.193},{"i":27,"x":-0.36,"y":-0.366},{"i":27,"x":-0.569,"y":-0.477},{"i":27,"x":-0.767,"y":-0.534},{"i":27,"x":-0.922,"y":-0.555},{"i":27,"x":-1.098,"y":-0.56},{"i":27,"x":-1.234,"y":-0.552},{"i":27,"x":-1.383,"y":-0.533},
{"i":28,"x":0,"y":0},{"i":28,"x":-0.06,"y":-0.249},{"i":28,"x":-0.146,"y":-0.53},{"i":28,"x":-0.254,"y":-0.801},{"i":28,"x":-0.369,"y":-1.044},{"i":28,"x":-0.467,"y":-1.229},{"i":28,"x":-0.586,"y":-1.436},{"i":28,"x":-0.684,"y":-1.595},{"i":28,"x":-0.795,"y":-1.768},
{"i":29,"x":0,"y":0},{"i":29,"x":0.06,"y":-0.249},{"i":29,"x":0.146,"y":-0.53},{"i":29,"x":0.254,"y":-0.801},{"i":29,"x":0.369,"y":-1.044},{"i":29,"x":0.467,"y":-1.229},{"i":29,"x":0.586,"y":-1.436},{"i":29,"x":0.684,"y":-1.595},{"i":29,"x":0.795,"y":-1.768},
{"i":30,"x":0,"y":0},{"i":30,"x":0.162,"y":-0.193},{"i":30,"x":0.36,"y":-0.366},{"i":30,"x":0.569,"y":-0.477},{"i":30,"x":0.767,"y":-0.534},{"i":30,"x":0.922,"y":-0.555},{"i":30,"x":1.098,"y":-0.56},{"i":30,"x":1.234,"y":-0.552},{"i":30,"x":1.383,"y":-0.533},
{"i":31,"x":0,"y":0},{"i":31,"x":0.224,"y":-0.102},{"i":31,"x":0.438,"y":-0.165},{"i":31,"x":0.594,"y":-0.163},{"i":31,"x":0.697,"y":-0.121},{"i":31,"x":0.757,"y":-0.07},{"i":31,"x":0.807,"y":0},{"i":31,"x":0.836,"y":0.061},{"i":31,"x":0.858,"y":0.133},
{"i":32,"x":0,"y":0},{"i":32,"x":0.605,"y":0}
]
},
"hconcat":[
{
"width":512,"height":728,
"layer":[
{"data":{"name":"Lc"},"mark":{"type":"line","interpolate":"cardinal-closed","strokeWidth":1.3},
 "encoding":{"x":{"field":"x","type":"quantitative","scale":{"domain":[-0.953,0.972],"nice":false,"zero":false},"axis":null},
 "y":{"field":"y","type":"quantitative","scale":{"domain":[-1.372,1.365],"nice":false,"zero":false},"axis":null},
 "color":{"field":"i","type":"nominal","legend":null,"scale":{"domain":[2,3,4,5,6,7,8,9,10,11,12,13,14,15,18,19,20,21,22,23,24,25,26,27,28,29,30,31,32],"range":["#b25087","#b2a350","#50b26a","#506fb2","#b250a8","#b28350","#57b250","#5090b2","#9b50b2","#b26250","#77b250","#50b0b2","#7b50b2","#b2505f","#5a50b2","#b25080","#b2ab50","#50b272","#5067b2","#b250a0","#b28b50","#50b252","#5088b2","#a350b2","#b26a50","#6fb250","#50a9b2","#8250b2","#b25057"]}},
 "order":{"value":null}}},
{"data":{"name":"Lr"},"mark":{"type":"line","interpolate":"catmull-rom","strokeWidth":1.3},
 "encoding":{"x":{"field":"x","type":"quantitative","scale":{"domain":[-0.953,0.972],"nice":false,"zero":false},"axis":null},
 "y":{"field":"y","type":"quantitative","scale":{"domain":[-1.372,1.365],"nice":false,"zero":false},"axis":null},
 "color":{"field":"i","type":"nominal","legend":null},
 "order":{"value":null}}},
{"data":{"values":[{"x":-0.934,"x2":0.945}]},"mark":{"type":"rule","color":"black","strokeWidth":1.2},
 "encoding":{"x":{"field":"x","type":"quantitative"},"x2":{"field":"x2"},"y":{"datum":0}}},
{"data":{"values":[{"y":-1.335,"y2":1.346}]},"mark":{"type":"rule","color":"black","strokeWidth":1.2},
 "encoding":{"y":{"field":"y","type":"quantitative"},"y2":{"field":"y2"},"x":{"datum":0}}},
{"data":{"values":[{"x":-0.9},{"x":-0.8},{"x":-0.7},{"x":-0.6},{"x":-0.4},{"x":-0.3},{"x":-0.2},{"x":-0.1},{"x":0.1},{"x":0.2},{"x":0.3},{"x":0.4},{"x":0.6},{"x":0.7},{"x":0.8},{"x":0.9}]},
 "mark":{"type":"tick","orient":"vertical","size":4,"thickness":1,"color":"black","yOffset":-2},
 "encoding":{"x":{"field":"x","type":"quantitative"},"y":{"datum":0}}},
{"data":{"values":[{"x":-0.5},{"x":0.5}]},
 "mark":{"type":"tick","orient":"vertical","size":7,"thickness":1,"color":"black","yOffset":-3.5},
 "encoding":{"x":{"field":"x","type":"quantitative"},"y":{"datum":0}}},
{"data":{"values":[{"y":-1.3},{"y":-1.2},{"y":-1.1},{"y":-0.9},{"y":-0.8},{"y":-0.7},{"y":-0.6},{"y":-0.4},{"y":-0.3},{"y":-0.2},{"y":-0.1},{"y":0.1},{"y":0.2},{"y":0.3},{"y":0.4},{"y":0.6},{"y":0.7},{"y":0.8},{"y":0.9},{"y":1.1},{"y":1.2},{"y":1.3}]},
 "mark":{"type":"tick","orient":"horizontal","size":4,"thickness":1,"color":"black","xOffset":2},
 "encoding":{"y":{"field":"y","type":"quantitative"},"x":{"datum":0}}},
{"data":{"values":[{"y":-1.0},{"y":-0.5},{"y":0.5},{"y":1.0}]},
 "mark":{"type":"tick","orient":"horizontal","size":7,"thickness":1,"color":"black","xOffset":3.5},
 "encoding":{"y":{"field":"y","type":"quantitative"},"x":{"datum":0}}},
{"data":{"values":[{"x":-0.5,"s":"−0.5"},{"x":0.5,"s":"0.5"}]},
 "mark":{"type":"text","font":"Liberation Serif","fontSize":20,"dy":18,"baseline":"middle","align":"center","color":"#1a1a1a"},
 "encoding":{"x":{"field":"x","type":"quantitative"},"y":{"datum":0},"text":{"field":"s"}}},
{"data":{"values":[{"y":1.0,"s":"1.0"},{"y":0.5,"s":"0.5"},{"y":-0.5,"s":"−0.5"},{"y":-1.0,"s":"−1.0"}]},
 "mark":{"type":"text","font":"Liberation Serif","fontSize":20,"dx":-10,"baseline":"middle","align":"right","color":"#1a1a1a"},
 "encoding":{"y":{"field":"y","type":"quantitative"},"x":{"datum":0},"text":{"field":"s"}}}
]
},
{
"width":519,"height":728,
"layer":[
{"data":{"name":"Rc"},"mark":{"type":"line","interpolate":"cardinal-closed","strokeWidth":1.3},
 "encoding":{"x":{"field":"x","type":"quantitative","scale":{"domain":[-1.508,1.424],"nice":false,"zero":false},"axis":null},
 "y":{"field":"y","type":"quantitative","scale":{"domain":[-2.054,2.059],"nice":false,"zero":false},"axis":null},
 "color":{"field":"i","type":"nominal","legend":null,"scale":{"domain":[2,3,4,5,6,7,8,9,10,11,12,13,14,15,18,19,20,21,22,23,24,25,26,27,28,29,30,31,32],"range":["#b25087","#b2a350","#50b26a","#506fb2","#b250a8","#b28350","#57b250","#5090b2","#9b50b2","#b26250","#77b250","#50b0b2","#7b50b2","#b2505f","#5a50b2","#b25080","#b2ab50","#50b272","#5067b2","#b250a0","#b28b50","#50b252","#5088b2","#a350b2","#b26a50","#6fb250","#50a9b2","#8250b2","#b25057"]}},
 "order":{"value":null}}},
{"data":{"name":"Rr"},"mark":{"type":"line","interpolate":"catmull-rom","strokeWidth":1.3},
 "encoding":{"x":{"field":"x","type":"quantitative","scale":{"domain":[-1.508,1.424],"nice":false,"zero":false},"axis":null},
 "y":{"field":"y","type":"quantitative","scale":{"domain":[-2.054,2.059],"nice":false,"zero":false},"axis":null},
 "color":{"field":"i","type":"nominal","legend":null},
 "order":{"value":null}}},
{"data":{"values":[{"x":-1.492,"x2":1.424}]},"mark":{"type":"rule","color":"black","strokeWidth":1.2},
 "encoding":{"x":{"field":"x","type":"quantitative"},"x2":{"field":"x2"},"y":{"datum":0}}},
{"data":{"values":[{"y":-2.037,"y2":2.048}]},"mark":{"type":"rule","color":"black","strokeWidth":1.2},
 "encoding":{"y":{"field":"y","type":"quantitative"},"y2":{"field":"y2"},"x":{"datum":0}}},
{"data":{"values":[{"x":-1.4},{"x":-1.3},{"x":-1.2},{"x":-1.1},{"x":-0.9},{"x":-0.8},{"x":-0.7},{"x":-0.6},{"x":-0.4},{"x":-0.3},{"x":-0.2},{"x":-0.1},{"x":0.1},{"x":0.2},{"x":0.3},{"x":0.4},{"x":0.6},{"x":0.7},{"x":0.8},{"x":0.9},{"x":1.1},{"x":1.2},{"x":1.3},{"x":1.4}]},
 "mark":{"type":"tick","orient":"vertical","size":4,"thickness":1,"color":"black","yOffset":-2},
 "encoding":{"x":{"field":"x","type":"quantitative"},"y":{"datum":0}}},
{"data":{"values":[{"x":-1.0},{"x":-0.5},{"x":0.5},{"x":1.0}]},
 "mark":{"type":"tick","orient":"vertical","size":7,"thickness":1,"color":"black","yOffset":-3.5},
 "encoding":{"x":{"field":"x","type":"quantitative"},"y":{"datum":0}}},
{"data":{"values":[{"y":-1.8},{"y":-1.6},{"y":-1.4},{"y":-1.2},{"y":-0.8},{"y":-0.6},{"y":-0.4},{"y":-0.2},{"y":0.2},{"y":0.4},{"y":0.6},{"y":0.8},{"y":1.2},{"y":1.4},{"y":1.6},{"y":1.8}]},
 "mark":{"type":"tick","orient":"horizontal","size":4,"thickness":1,"color":"black","xOffset":2},
 "encoding":{"y":{"field":"y","type":"quantitative"},"x":{"datum":0}}},
{"data":{"values":[{"y":-2},{"y":-1},{"y":1},{"y":2}]},
 "mark":{"type":"tick","orient":"horizontal","size":7,"thickness":1,"color":"black","xOffset":3.5},
 "encoding":{"y":{"field":"y","type":"quantitative"},"x":{"datum":0}}},
{"data":{"values":[{"x":-1.0,"s":"−1.0"},{"x":-0.5,"s":"−0.5"},{"x":0.5,"s":"0.5"},{"x":1.0,"s":"1.0"}]},
 "mark":{"type":"text","font":"Liberation Serif","fontSize":20,"dy":18,"baseline":"middle","align":"center","color":"#1a1a1a"},
 "encoding":{"x":{"field":"x","type":"quantitative"},"y":{"datum":0},"text":{"field":"s"}}},
{"data":{"values":[{"y":1,"s":"1"},{"y":-1,"s":"−1"}]},
 "mark":{"type":"text","font":"Liberation Serif","fontSize":20,"dx":-11,"baseline":"middle","align":"right","color":"#1a1a1a"},
 "encoding":{"y":{"field":"y","type":"quantitative"},"x":{"datum":0},"text":{"field":"s"}}},
{"data":{"values":[{"y":2,"s":"2"}]},
 "mark":{"type":"text","font":"Liberation Serif","fontSize":20,"dx":-11,"dy":3,"baseline":"middle","align":"right","color":"#1a1a1a"},
 "encoding":{"y":{"field":"y","type":"quantitative"},"x":{"datum":0},"text":{"field":"s"}}},
{"data":{"values":[{"y":-2,"s":"−2"}]},
 "mark":{"type":"text","font":"Liberation Serif","fontSize":20,"dx":-11,"dy":-3,"baseline":"middle","align":"right","color":"#1a1a1a"},
 "encoding":{"y":{"field":"y","type":"quantitative"},"x":{"datum":0},"text":{"field":"s"}}}
]
}
]
}
